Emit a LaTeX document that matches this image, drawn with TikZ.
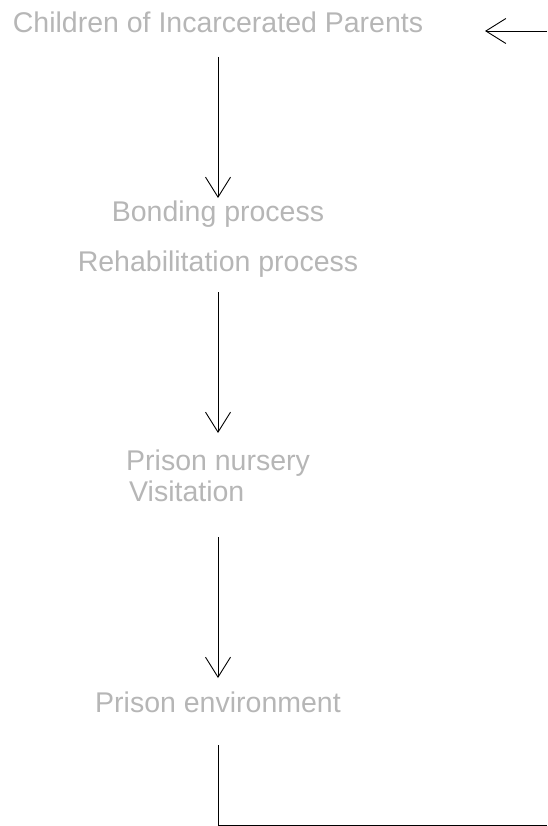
\documentclass[tikz,border=0pt]{standalone}
\usepackage{fontspec}
\setmainfont{Liberation Sans}
\usetikzlibrary{arrows.meta,calc}
\definecolor{txtgray}{HTML}{B6B6B6}
\tikzset{
  lbl/.style={font=\fontsize{28.5}{32}\selectfont, text=txtgray, inner sep=0pt, anchor=base},
  lblw/.style={lbl, anchor=base west},
  conn/.style={draw=black, line width=0.9pt},
  arr/.style={conn, -{Straight Barb[length=20pt, width=25pt, line width=0.9pt]}}
}
\begin{document}
\begin{tikzpicture}[x=1pt, y=-1pt]
\useasboundingbox (0,0) rectangle (547,826);
\node[lbl]  (c)  at (218,33)  {Children of Incarcerated Parents};
\node[lbl]  (b)  at (218,222) {Bonding process};
\node[lbl]  (r)  at (218,271) {Rehabilitation process};
\node[lblw] (n1) at (126,470) {Prison nursery};
\node[lblw] (n2) at (129,501) {Visitation};
\node[lbl]  (e)  at (218,712) {Prison environment};
\coordinate (re) at (547,31);
\coordinate (rt) at (485,31);
\coordinate (bc) at (218,825);
\coordinate (br) at (547,825);
\draw[arr] ($(c.base)+(0,24)$) -- ($(b.base)+(0,-24)$);
\draw[arr] ($(r.base)+(0,21)$) -- ($(r.base |- n1.base)+(0,-37)$);
\draw[arr] ($(e.base |- n2.base)+(0,36)$) -- ($(e.base)+(0,-34)$);
\draw[conn] ($(e.base)+(0,33)$) -- (bc) -- (br);
\draw[arr] (re) -- (rt);
\end{tikzpicture}
\end{document}
